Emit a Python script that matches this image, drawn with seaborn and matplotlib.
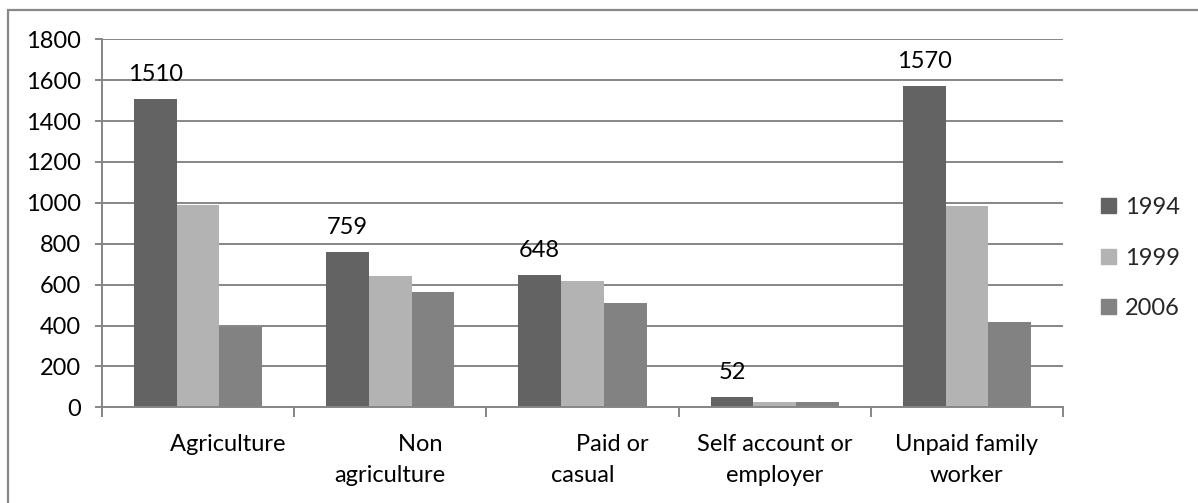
import matplotlib
matplotlib.use("Agg")
import matplotlib.pyplot as plt
import matplotlib.patches as mpatches
import pandas as pd
import seaborn as sns

# Employment by type of work, three survey years
categories = ["Agriculture", "Non agriculture", "Paid or casual",
              "Self account or employer", "Unpaid family worker"]
tick_labels = [" " * 10 + "Agriculture",
               " " * 10 + "Non\nagriculture",
               " " * 10 + "Paid or\ncasual",
               "Self account or\nemployer",
               "Unpaid family\nworker"]
years = ["1994", "1999", "2006"]
values_1994 = [1510, 759, 648, 52, 1570]
values_1999 = [988, 640, 616, 28, 984]
values_2006 = [391, 565, 512, 24, 419]
y_ticks = [0, 200, 400, 600, 800, 1000, 1200, 1400, 1600, 1800]

colors = {"1994": "#636363", "1999": "#b3b3b3", "2006": "#828282"}
grid_color = "#868686"
FS = 17

df = pd.DataFrame({
    "category": categories * 3,
    "year": [y for y in years for _ in categories],
    "value": values_1994 + values_1999 + values_2006,
})

sns.set_theme(style="white")
plt.rcParams["font.family"] = ["Lato", "DejaVu Sans"]

fig = plt.figure(figsize=(11.98, 5.03), dpi=100)
ax = fig.add_axes([0.0851, 0.1903, 0.8022, 0.7316])

sns.barplot(data=df, x="category", y="value", hue="year", order=categories,
            hue_order=years, palette=colors, width=0.667, gap=0,
            saturation=1, edgecolor="none", linewidth=0, ax=ax, legend=True)

ax.set_xlim(-0.5, len(categories) - 0.5)
ax.set_ylim(0, 1800)
ax.set_yticks(y_ticks)
ax.set_yticklabels([str(v) for v in y_ticks], fontsize=FS, color="black")
ax.yaxis.grid(True, color=grid_color, linewidth=1.4)
ax.set_axisbelow(True)
ax.set_xlabel("")
ax.set_ylabel("")

# category labels at centres, tick marks on the category boundaries
ax.set_xticks(range(len(categories)))
ax.set_xticklabels(tick_labels, fontsize=FS, color="black",
                   linespacing=1.6, multialignment="center")
ax.set_xticks([i - 0.5 for i in range(len(categories) + 1)], minor=True)
ax.tick_params(axis="x", which="major", length=0, pad=19)
ax.tick_params(axis="x", which="minor", length=7, width=1.4,
               color=grid_color, direction="out", bottom=True)
ax.tick_params(axis="y", which="major", length=5, width=1.4,
               color=grid_color, direction="out", left=True, pad=10)

for side in ["top", "right"]:
    ax.spines[side].set_visible(False)
for side in ["left", "bottom"]:
    ax.spines[side].set_color(grid_color)
    ax.spines[side].set_linewidth(1.4)

# value labels on the 1994 series only
ax.bar_label(ax.containers[0], labels=[str(v) for v in values_1994],
             padding=10, fontsize=FS, color="black")

handles = [mpatches.Patch(color=colors[y], label=y) for y in years]
if ax.get_legend() is not None:
    ax.get_legend().remove()
fig.legend(handles=handles, loc="center left",
           bbox_to_anchor=(0.919, 0.487), frameon=False, fontsize=FS,
           handlelength=0.62, handleheight=0.62, handletextpad=0.4,
           labelspacing=1.25, borderpad=0, borderaxespad=0)

# outer chart frame
frame = mpatches.Rectangle((8 / 1198, -0.2), 1.2, 1.2 - 10 / 503,
                           transform=fig.transFigure, fill=False,
                           edgecolor="#888888", linewidth=1.6)
frame.set_clip_on(False)
fig.add_artist(frame)

fig.savefig("out.png", dpi=100)
